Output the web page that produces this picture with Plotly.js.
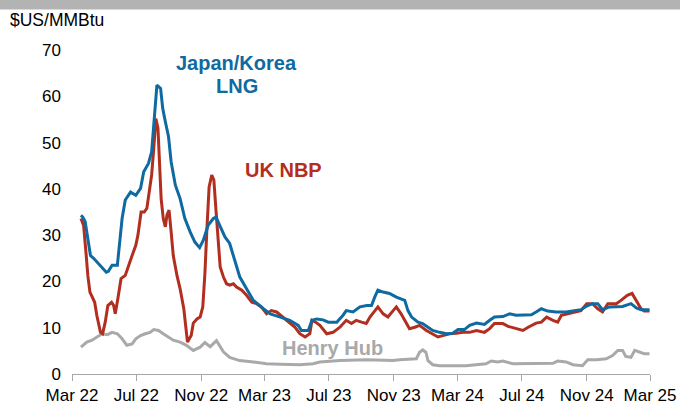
<!DOCTYPE html>
<html>
<head>
<meta charset="utf-8">
<script src="https://cdn.plot.ly/plotly-3.0.1.min.js"></script>
<style>
html,body{margin:0;padding:0;background:#fff;}
#chart{width:680px;height:406px;}
</style>
</head>
<body>
<div id="chart"></div>
<script>
// Japan/Korea LNG ($US/MMBtu)
const lngDates = ['2022-03-18','2022-03-22','2022-03-26','2022-04-05','2022-04-11','2022-04-27','2022-05-05','2022-05-09','2022-05-16','2022-05-26','2022-05-29','2022-06-04','2022-06-10','2022-06-20','2022-06-30','2022-07-09','2022-07-15','2022-07-24','2022-07-30','2022-08-03','2022-08-06','2022-08-09','2022-08-16','2022-08-20','2022-08-25','2022-08-31','2022-09-05','2022-09-13','2022-09-22','2022-10-01','2022-10-11','2022-10-20','2022-10-29','2022-11-05','2022-11-14','2022-11-24','2022-11-29','2022-12-07','2022-12-16','2022-12-25','2023-01-04','2023-01-13','2023-01-26','2023-02-08','2023-02-27','2023-03-12','2023-03-31','2023-04-18','2023-05-04','2023-05-10','2023-05-23','2023-05-30','2023-06-08','2023-06-20','2023-06-30','2023-07-16','2023-07-28','2023-08-03','2023-08-16','2023-08-29','2023-09-11','2023-09-20','2023-09-26','2023-10-02','2023-10-12','2023-10-24','2023-11-06','2023-11-22','2023-11-28','2023-12-05','2023-12-17','2023-12-26','2024-01-05','2024-01-14','2024-01-27','2024-02-09','2024-02-21','2024-03-02','2024-03-14','2024-03-24','2024-04-06','2024-04-21','2024-05-01','2024-05-10','2024-05-26','2024-06-08','2024-06-20','2024-07-03','2024-07-19','2024-07-28','2024-08-07','2024-08-19','2024-09-04','2024-09-23','2024-10-06','2024-10-21','2024-11-03','2024-11-12','2024-11-22','2024-12-01','2024-12-14','2024-12-27','2025-01-08','2025-01-24','2025-02-03','2025-02-12','2025-02-28'];
const lngValues = [34.3,33.8,32.9,25.6,25.0,23.1,22.0,22.2,23.5,23.5,27.1,33.6,37.6,39.3,38.6,40.1,43.7,45.5,48.0,53.8,58.1,62.4,61.7,57.4,54.5,51.3,45.8,40.8,37.9,33.6,30.7,28.5,27.3,28.9,32.1,33.6,33.9,31.8,29.6,28.2,24.6,21.0,18.4,15.9,14.1,13.0,12.3,11.6,10.5,9.4,9.4,11.6,11.9,11.7,11.2,11.2,12.7,13.7,13.4,14.5,14.8,14.8,16.6,18.1,17.7,17.4,16.6,15.9,13.7,12.3,11.2,10.9,10.1,9.4,9.0,8.7,8.8,9.6,9.6,10.5,11.0,10.7,11.6,12.3,12.4,13.0,12.7,12.7,12.8,13.4,14.1,13.6,13.4,13.4,13.7,13.9,14.8,15.2,15.2,13.9,14.5,14.5,14.6,15.2,14.3,13.9,13.9];

// UK NBP ($US/MMBtu)
const nbpDates = ['2022-03-18','2022-03-23','2022-03-28','2022-03-31','2022-04-04','2022-04-13','2022-04-17','2022-04-24','2022-04-28','2022-05-03','2022-05-08','2022-05-15','2022-05-19','2022-05-22','2022-05-27','2022-06-02','2022-06-10','2022-06-18','2022-06-23','2022-06-30','2022-07-04','2022-07-10','2022-07-16','2022-07-21','2022-07-24','2022-07-30','2022-08-03','2022-08-07','2022-08-11','2022-08-14','2022-08-17','2022-08-21','2022-08-25','2022-08-28','2022-09-01','2022-09-05','2022-09-09','2022-09-16','2022-09-22','2022-09-29','2022-10-03','2022-10-06','2022-10-13','2022-10-17','2022-10-24','2022-10-30','2022-11-04','2022-11-08','2022-11-12','2022-11-16','2022-11-21','2022-11-25','2022-11-29','2022-12-03','2022-12-07','2022-12-13','2022-12-19','2022-12-25','2023-01-01','2023-01-07','2023-01-17','2023-01-26','2023-02-05','2023-02-14','2023-02-23','2023-03-05','2023-03-14','2023-03-24','2023-04-05','2023-04-18','2023-04-28','2023-05-07','2023-05-17','2023-05-26','2023-05-30','2023-06-06','2023-06-14','2023-06-27','2023-07-09','2023-07-22','2023-08-03','2023-08-13','2023-08-22','2023-09-01','2023-09-10','2023-09-17','2023-09-26','2023-10-02','2023-10-12','2023-10-21','2023-10-31','2023-11-06','2023-11-15','2023-11-25','2023-12-01','2023-12-11','2023-12-20','2024-01-02','2024-01-14','2024-01-24','2024-02-02','2024-02-15','2024-02-28','2024-03-11','2024-03-24','2024-04-06','2024-04-21','2024-05-01','2024-05-10','2024-05-26','2024-06-05','2024-06-20','2024-07-03','2024-07-13','2024-07-28','2024-08-07','2024-08-17','2024-08-29','2024-09-07','2024-09-14','2024-09-26','2024-10-06','2024-10-21','2024-11-01','2024-11-12','2024-11-22','2024-12-01','2024-12-11','2024-12-27','2025-01-05','2025-01-17','2025-01-26','2025-02-03','2025-02-12','2025-02-18','2025-02-28'];
const nbpValues = [33.6,32.1,25.6,21.3,17.7,15.5,12.7,9.0,8.7,11.2,14.8,15.5,14.8,13.0,16.3,20.6,21.3,24.2,25.6,27.8,30.0,35.0,35.0,35.8,38.6,43.0,48.7,55.2,53.1,46.6,37.9,33.6,31.8,34.3,35.4,30.7,25.6,21.3,18.4,14.1,9.0,6.9,8.3,11.0,11.9,12.3,14.5,21.7,31.8,40.4,43.0,41.9,35.4,28.2,23.1,21.0,19.5,19.2,19.5,18.8,18.1,17.0,15.5,15.2,14.5,13.0,13.7,13.4,12.3,11.2,10.1,8.7,8.0,8.7,11.6,11.2,10.5,8.7,9.0,10.1,11.6,10.9,11.6,11.2,10.9,12.3,13.7,14.5,13.0,12.3,13.7,14.5,13.0,10.9,9.8,10.1,10.5,9.4,8.7,8.0,8.3,8.7,8.8,9.0,9.0,9.4,9.0,9.8,10.9,10.9,10.3,9.8,9.4,10.1,11.0,11.2,12.3,11.6,11.2,12.7,13.0,13.4,13.7,15.2,15.2,14.1,13.4,15.2,15.2,15.9,17.0,17.4,15.9,14.1,13.6,13.6];

// Henry Hub ($US/MMBtu)
const hhDates = ['2022-03-18','2022-03-29','2022-04-08','2022-04-17','2022-04-27','2022-05-07','2022-05-16','2022-05-26','2022-06-04','2022-06-13','2022-06-23','2022-06-30','2022-07-09','2022-07-18','2022-07-27','2022-08-03','2022-08-12','2022-08-21','2022-08-31','2022-09-09','2022-09-22','2022-10-04','2022-10-17','2022-10-30','2022-11-08','2022-11-18','2022-11-30','2022-12-13','2022-12-25','2023-01-13','2023-02-08','2023-03-05','2023-03-31','2023-05-07','2023-06-01','2023-06-14','2023-07-22','2023-09-10','2023-10-31','2023-11-12','2023-12-14','2023-12-20','2023-12-26','2024-01-01','2024-01-05','2024-01-14','2024-01-27','2024-03-17','2024-04-24','2024-05-04','2024-05-16','2024-05-26','2024-06-14','2024-07-28','2024-08-29','2024-09-07','2024-09-23','2024-10-06','2024-10-24','2024-11-03','2024-11-20','2024-12-08','2024-12-20','2024-12-30','2025-01-08','2025-01-14','2025-01-24','2025-01-31','2025-02-09','2025-02-18','2025-02-28'];
const hhValues = [5.8,6.9,7.3,8.0,8.7,8.5,9.0,8.7,7.6,6.2,6.5,7.6,8.3,8.7,9.0,9.6,9.4,8.7,8.0,7.3,6.9,6.2,5.1,5.8,6.8,5.9,7.2,4.8,3.6,2.9,2.6,2.2,2.1,2.0,2.2,2.6,2.9,3.1,2.9,3.1,3.3,4.7,5.2,4.7,2.9,2.0,1.8,1.8,2.2,2.8,2.6,2.8,2.2,2.2,2.3,2.8,2.6,2.0,1.8,3.1,3.1,3.3,4.0,5.1,5.1,3.8,3.6,5.1,4.7,4.4,4.4];

// Axis ticks
const xTickVals = ['2022-03-01','2022-07-01','2022-11-01','2023-03-01','2023-07-01','2023-11-01','2024-03-01','2024-07-01','2024-11-01','2025-03-01'];
const xTickText = ['Mar 22','Jul 22','Nov 22','Mar 23','Jul 23','Nov 23','Mar 24','Jul 24','Nov 24','Mar 25'];
const yTickVals = [0,10,20,30,40,50,60,70];

const BLUE = '#0e6aa0';
const RED = '#b22e1f';
const GRAY = '#a9a9a9';
const FONT = 'Liberation Sans, Arial, sans-serif';

const W = 680, H = 406;
const M = {l:72, r:30, t:50, b:32};
const pw = W - M.l - M.r, ph = H - M.t - M.b;
const px = x => (x - M.l) / pw;
const py = y => (H - M.b - y) / ph;

const traces = [
  {x: hhDates, y: hhValues, type:'scatter', mode:'lines', line:{color:GRAY, width:3}, hoverinfo:'skip'},
  {x: nbpDates, y: nbpValues, type:'scatter', mode:'lines', line:{color:RED, width:3}, hoverinfo:'skip'},
  {x: lngDates, y: lngValues, type:'scatter', mode:'lines', line:{color:BLUE, width:3}, hoverinfo:'skip'}
];

const layout = {
  width: W, height: H,
  margin: M,
  paper_bgcolor:'#ffffff', plot_bgcolor:'#ffffff',
  showlegend:false,
  font:{family:FONT, size:17, color:'#000'},
  xaxis:{
    type:'date', range:['2022-03-01','2025-03-01'],
    tickmode:'array', tickvals:xTickVals, ticktext:xTickText,
    showline:true, linecolor:'#a6a6a6', linewidth:1,
    ticks:'outside', ticklen:6, tickcolor:'#a6a6a6', tickwidth:1,
    showgrid:false, zeroline:false,
    tickfont:{family:FONT, size:17, color:'#000'}
  },
  yaxis:{
    range:[0,70], tickmode:'array', tickvals:yTickVals,
    showline:false, ticks:'', showgrid:false, zeroline:false,
    ticklabelstandoff:10,
    tickfont:{family:FONT, size:17, color:'#000'}
  },
  shapes:[
    {type:'rect', xref:'paper', yref:'paper', x0:px(-5), x1:px(W+5), y0:py(9.5), y1:py(-2), fillcolor:'#b3b3b3', line:{width:0}, layer:'above'}
  ],
  annotations:[
    {xref:'paper', yref:'paper', x:px(8), y:py(20), xanchor:'left', yanchor:'middle', text:'$US/MMBtu', showarrow:false, font:{family:FONT, size:17.5, color:'#000'}},
    {xref:'paper', yref:'paper', x:px(236.5), y:py(63), xanchor:'center', yanchor:'middle', text:'<b>Japan/Korea</b>', showarrow:false, font:{family:FONT, size:20, color:BLUE}},
    {xref:'paper', yref:'paper', x:px(236.7), y:py(86), xanchor:'center', yanchor:'middle', text:'<b>LNG</b>', showarrow:false, font:{family:FONT, size:20, color:BLUE}},
    {xref:'paper', yref:'paper', x:px(283.3), y:py(170), xanchor:'center', yanchor:'middle', text:'<b>UK NBP</b>', showarrow:false, font:{family:FONT, size:20, color:RED}},
    {xref:'paper', yref:'paper', x:px(332.5), y:py(348), xanchor:'center', yanchor:'middle', text:'<b>Henry Hub</b>', showarrow:false, font:{family:FONT, size:20, color:GRAY}}
  ]
};

Plotly.newPlot('chart', traces, layout, {staticPlot:true, displayModeBar:false});
</script>
</body>
</html>
